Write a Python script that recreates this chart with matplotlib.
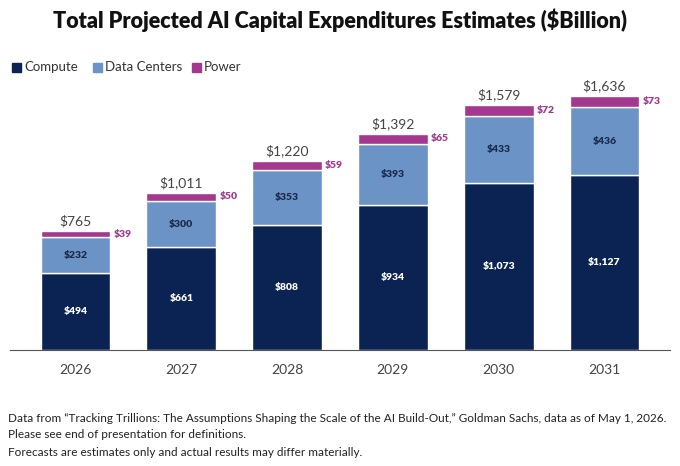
import matplotlib.pyplot as plt
import numpy as np

years = ["2026", "2027", "2028", "2029", "2030", "2031"]
compute = [494, 661, 808, 934, 1073, 1127]
data_centers = [232, 300, 353, 393, 433, 436]
power = [39, 50, 59, 65, 72, 73]
totals = [765, 1011, 1220, 1392, 1579, 1636]

C_COMP = "#0b2352"
C_DC = "#6b93c6"
C_POW = "#a3388e"

plt.rcParams["font.family"] = ["Lato", "DejaVu Sans"]
fig = plt.figure(figsize=(6.8, 4.66), dpi=100)
ax = fig.add_axes([10 / 680, 116 / 466, 660 / 680, 275 / 466])
x = np.arange(len(years))
w = 0.66
kw = dict(width=w, edgecolor="white", linewidth=1)
ax.bar(x, compute, color=C_COMP, **kw)
ax.bar(x, data_centers, bottom=compute, color=C_DC, **kw)
bot2 = np.array(compute) + np.array(data_centers)
ax.bar(x, power, bottom=bot2, color=C_POW, **kw)

for i in x:
    ax.text(i, compute[i] / 2, f"${compute[i]:,}", ha="center", va="center",
            color="white", fontsize=7.5, fontweight="heavy")
    ax.text(i, compute[i] + data_centers[i] / 2, f"${data_centers[i]:,}",
            ha="center", va="center", color="#1a2a4a", fontsize=7.5, fontweight="heavy")
    ax.text(i + w / 2 + 0.03, bot2[i] + power[i] / 2, f"${power[i]}",
            ha="left", va="center", color=C_POW, fontsize=7.5, fontweight="heavy")
    ax.text(i, totals[i] + 25, f"${totals[i]:,}", ha="center", va="bottom",
            color="#444444", fontsize=10)

ax.set_xlim(-0.62, len(years) - 0.38)
ax.set_ylim(0, 1636 * 275 / 254)
ax.set_xticks(x, years)
ax.tick_params(axis="x", length=0, pad=10, labelsize=10, labelcolor="#444444")
ax.set_yticks([])
for s in ["top", "right", "left"]:
    ax.spines[s].set_visible(False)
ax.spines["bottom"].set_color("#555555")

fig.text(0.5, 1 - 20 / 466, "Total Projected AI Capital Expenditures Estimates ($Billion)",
         ha="center", va="center", fontsize=15.5, fontweight="heavy", color="#111111")

for label, col, px in [("Compute", C_COMP, 12), ("Data Centers", C_DC, 93), ("Power", C_POW, 192)]:
    fig.patches.append(plt.Rectangle((px / 680, 1 - 72 / 466), 9 / 680, 9 / 466,
                                     transform=fig.transFigure, color=col))
    fig.text((px + 12) / 680, 1 - 67 / 466, label, ha="left", va="center",
             fontsize=9.5, color="#333333")

notes = [
    "Data from \u201cTracking Trillions: The Assumptions Shaping the Scale of the AI Build-Out,\u201d Goldman Sachs, data as of May 1, 2026.",
    "Please see end of presentation for definitions.",
    "Forecasts are estimates only and actual results may differ materially.",
]
for k, t in enumerate(notes):
    fig.text(8 / 680, 1 - (418 + 17 * k) / 466, t, ha="left", va="center",
             fontsize=8.5, color="#222222")

fig.savefig("out.png", dpi=100)
